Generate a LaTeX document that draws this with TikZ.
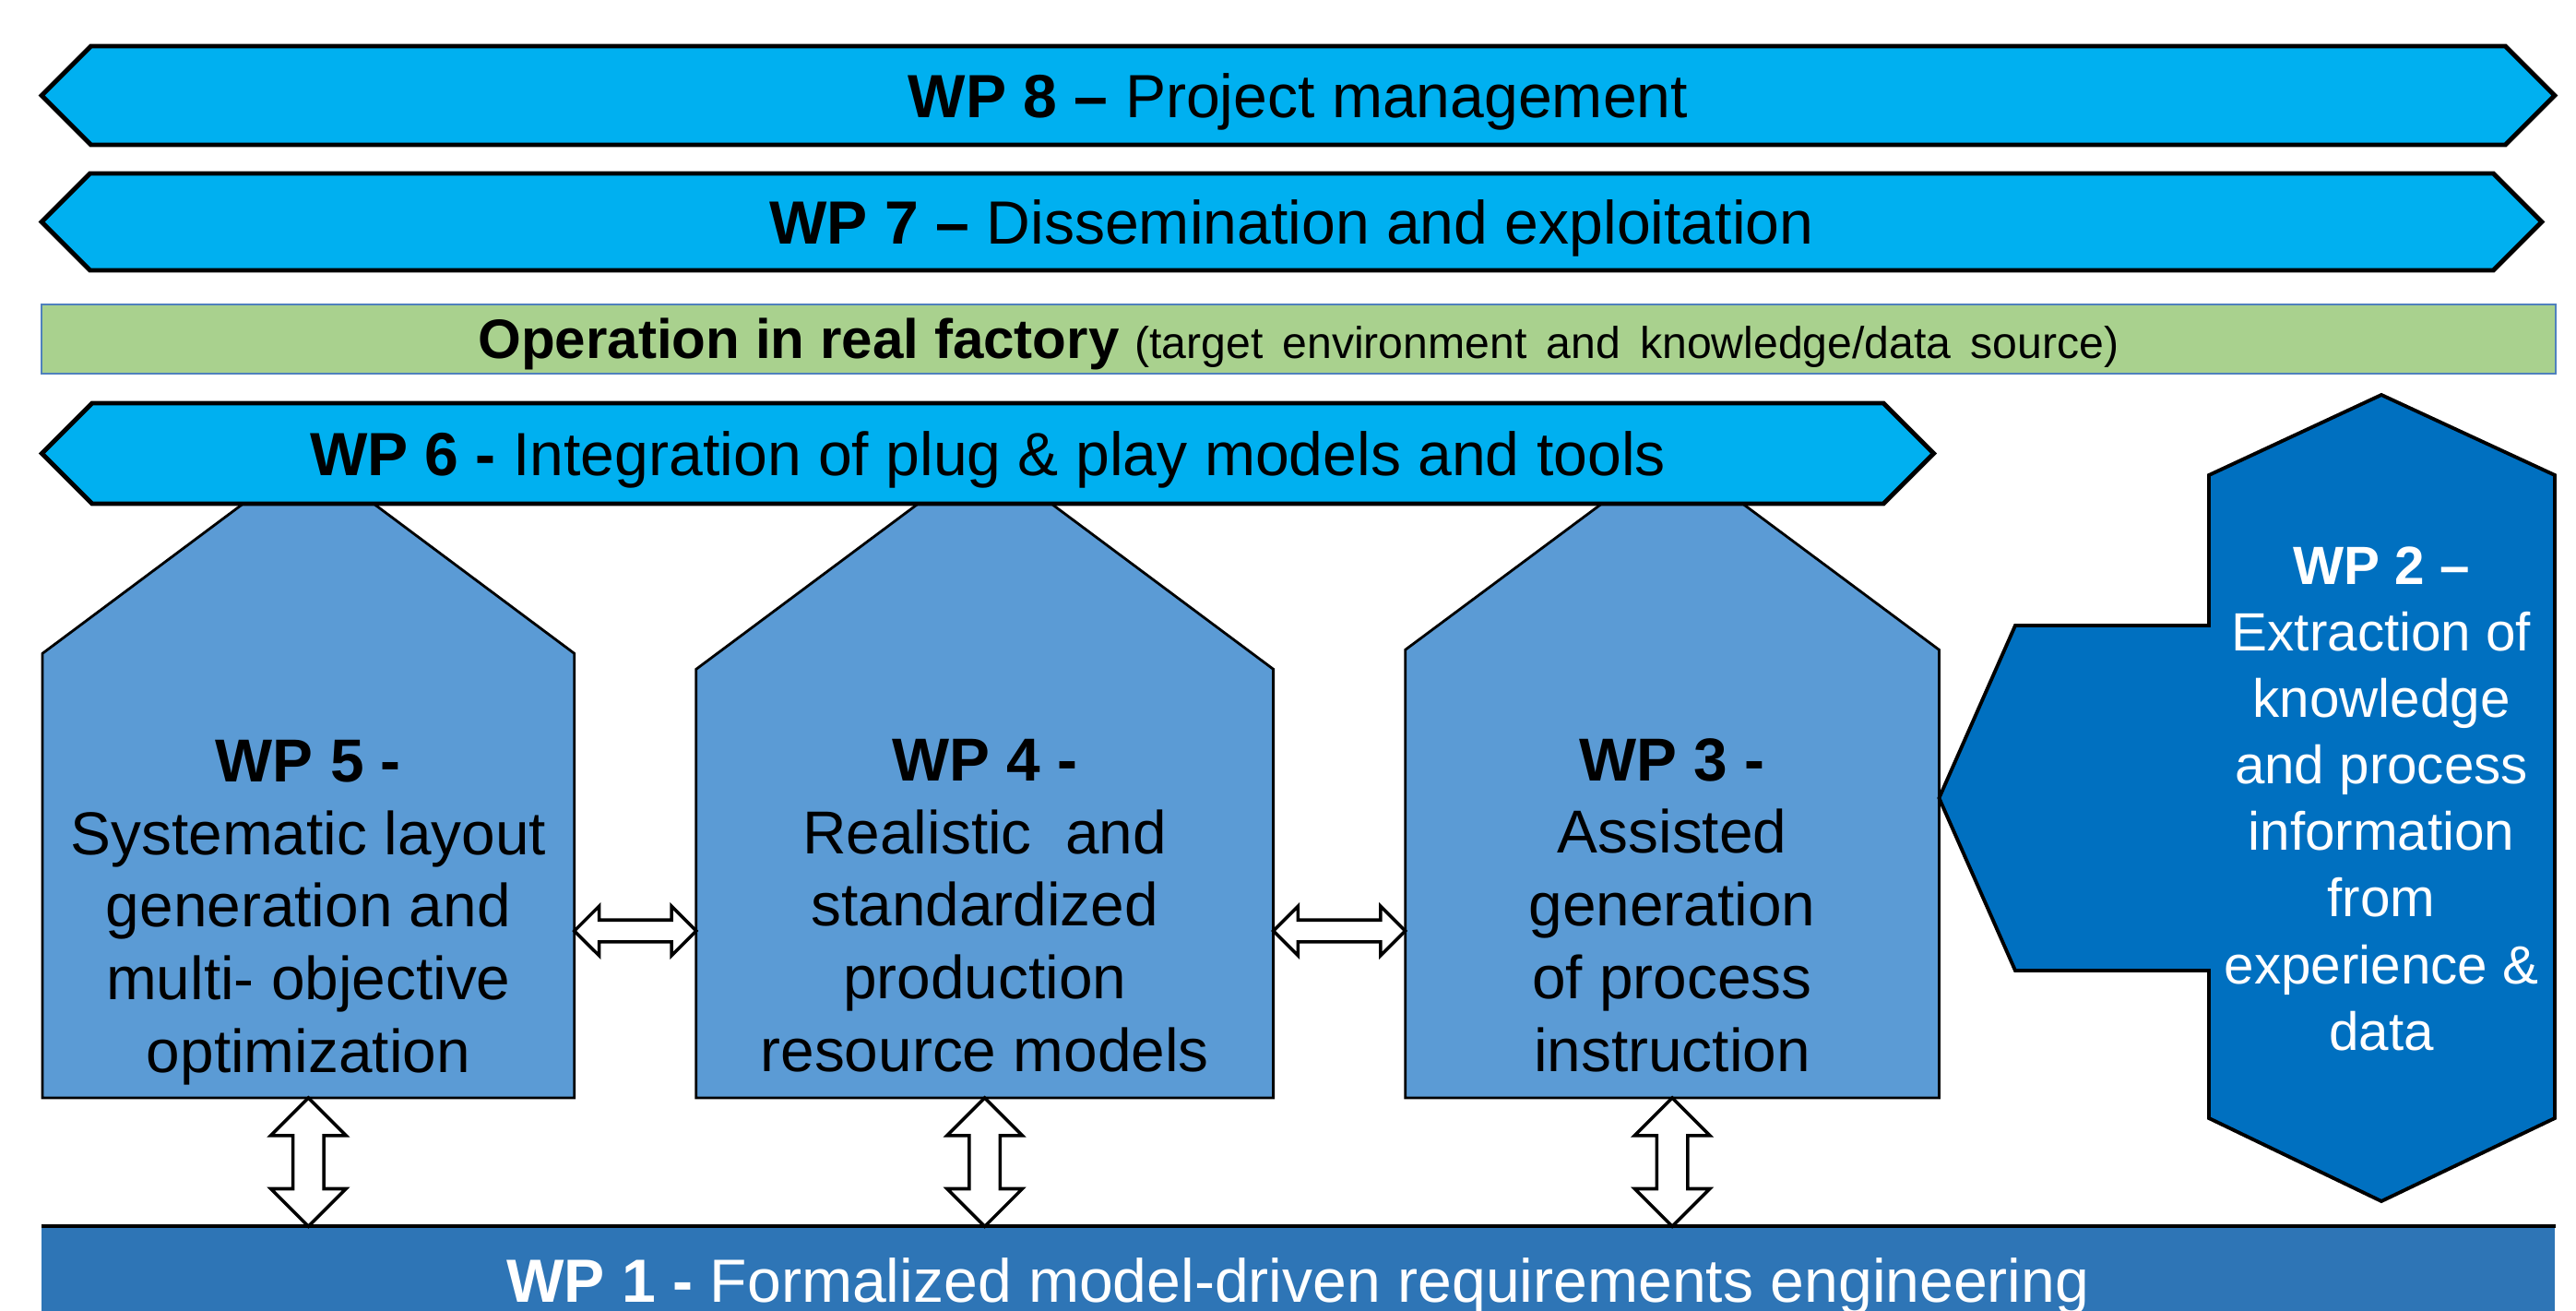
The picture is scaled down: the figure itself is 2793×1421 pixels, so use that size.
\documentclass[tikz,border=0pt]{standalone}
\usepackage{fontspec}
\setmainfont{Liberation Sans}
\usepackage{xcolor}
\definecolor{wpcyan}{HTML}{00B0F0}
\definecolor{wphouse}{HTML}{5B9BD5}
\definecolor{wpdeep}{HTML}{0070C0}
\definecolor{wpbase}{HTML}{2E75B6}
\definecolor{factory}{HTML}{A9D18E}
\definecolor{factoryline}{HTML}{4F81BD}
\usepackage{tikz}
\usetikzlibrary{shapes, shapes.arrows, shapes.symbols, positioning, calc}

\begin{document}
\begin{tikzpicture}[x=0.01cm, y=-0.01cm]
        \useasboundingbox (0,0) rectangle (2793,1421);
        \clip (0,0) rectangle (2793,1421);

        % Define block styles
        \tikzstyle{wpband} = [signal, signal to=east and west, signal pointer angle=90, draw, line width=1.4pt, fill=wpcyan, inner sep=0pt, text height=13.45pt, text depth=0pt, font=\fontsize{18.8}{22}\selectfont]
        \tikzstyle{bodybox} = [rectangle, inner sep=0pt, anchor=south west]
        \tikzstyle{housebox} = [draw, line width=0.8pt, fill=wphouse]
        \tikzstyle{housetext} = [align=center, inner sep=0pt, anchor=north, font=\fontsize{18.7}{22.4}\selectfont]
        \tikzstyle{twoway} = [double arrow, draw, line width=1pt, fill=white, double arrow tip angle=90]

        % Bands
        \node [wpband, minimum width=27.23cm, minimum height=1.07cm] (wp8) at (1407.5,103.5) {\textbf{WP 8 –} Project management};
        \node [wpband, minimum width=27.09cm, minimum height=1.05cm] (wp7) at (1400.5,240.5) {\textbf{WP 7 –} Dissemination and exploitation};
        \node [rectangle, draw=factoryline, line width=0.6pt, fill=factory, minimum width=27.24cm, minimum height=0.75cm, inner sep=0pt, text height=12.2pt, text depth=0pt] (factory) at (1408,367.5)
            {\fontsize{17.1}{20}\selectfont\textbf{Operation in real factory} \fontsize{13.7}{16}\selectfont\spaceskip=6pt (target environment and knowledge/data source)};

        % Houses
        \node [bodybox, minimum width=5.75cm, minimum height=4.80cm] (wp5) at (46,1190) {};
        \node [bodybox, minimum width=6.24cm, minimum height=4.63cm, right=1.32cm of wp5.south east, anchor=south west] (wp4) {};
        \node [bodybox, minimum width=5.77cm, minimum height=4.84cm, right=1.43cm of wp4.south east, anchor=south west] (wp3) {};

        \draw [housebox] (wp5.south west) -- (wp5.north west) -- ([yshift=2.15cm]wp5.north) -- (wp5.north east) -- (wp5.south east) -- cycle;
        \draw [housebox] (wp4.south west) -- (wp4.north west) -- ([yshift=2.33cm]wp4.north) -- (wp4.north east) -- (wp4.south east) -- cycle;
        \draw [housebox] (wp3.south west) -- (wp3.north west) -- ([yshift=2.15cm]wp3.north) -- (wp3.north east) -- (wp3.south east) -- cycle;

        \node [wpband, minimum width=20.50cm, minimum height=1.09cm] (wp6) at (1071,491.5) {\textbf{WP 6 -} Integration of plug \& play models and tools};

        \node [housetext] (wp5text) at ([yshift=-0.93cm]wp5.north) {\textbf{WP 5 -}\\Systematic layout\\generation and\\multi- objective\\optimization};
        \node [housetext] (wp4text) at ([yshift=-0.75cm]wp4.north) {\textbf{WP 4 -}\\Realistic~ and\\standardized\\production\\resource models};
        \node [housetext] (wp3text) at ([yshift=-0.95cm]wp3.north) {\textbf{WP 3 -}\\Assisted\\generation\\of process\\instruction};

        % Side block
        \draw [draw, line width=1.1pt, fill=wpdeep] (2582,428) -- (2770,515) -- (2770,1212) -- (2582,1302) -- (2395,1212) -- (2395,1052) -- (2185,1052)
            -- (wp3.east |- 0,865) -- (2185,678) -- (2395,678) -- (2395,515) -- cycle;
        \node [align=center, inner sep=0pt, anchor=north, text=white, font=\fontsize{16.6}{20.5}\selectfont] (wp2) at (2582,592)
            {\textbf{WP 2 –}\\Extraction of\\knowledge\\and process\\information\\from\\experience \&\\data};

        % Base
        \node [rectangle, fill=wpbase, text=white, minimum width=27.23cm, minimum height=1.16cm, inner sep=0pt, text height=13.45pt, text depth=0pt, font=\fontsize{18.8}{22}\selectfont] (wp1) at (1407.5,1388)
            {\textbf{WP 1 -} Formalized model-driven requirements engineering};
        \draw [line width=1.2pt] (wp1.north west) -- (wp1.north east);

        % Paths
        \coordinate (arrowrow) at (0,1009);
        \path let \p1=(wp5.east |- arrowrow), \p2=(wp4.west |- arrowrow), \n1={veclen(\x2-\x1,\y2-\y1)} in
            (\p1) -- (\p2) node [twoway, midway, sloped, inner sep=0.1cm, minimum width=0.5cm, double arrow head extend=0.15cm, minimum height=\n1] {};
        \path let \p1=(wp4.east |- arrowrow), \p2=(wp3.west |- arrowrow), \n1={veclen(\x2-\x1,\y2-\y1)} in
            (\p1) -- (\p2) node [twoway, midway, sloped, inner sep=0.1cm, minimum width=0.5cm, double arrow head extend=0.15cm, minimum height=\n1] {};
        \foreach \wp in {wp5, wp4, wp3}
            \path let \p1=(\wp.south), \p2=(\wp.south |- wp1.north), \n1={veclen(\x2-\x1,\y2-\y1)} in
                (\p1) -- (\p2) node [twoway, midway, sloped, inner sep=0.15cm, minimum width=0.78cm, double arrow head extend=0.24cm, minimum height=\n1] {};

    \end{tikzpicture}
\end{document}
